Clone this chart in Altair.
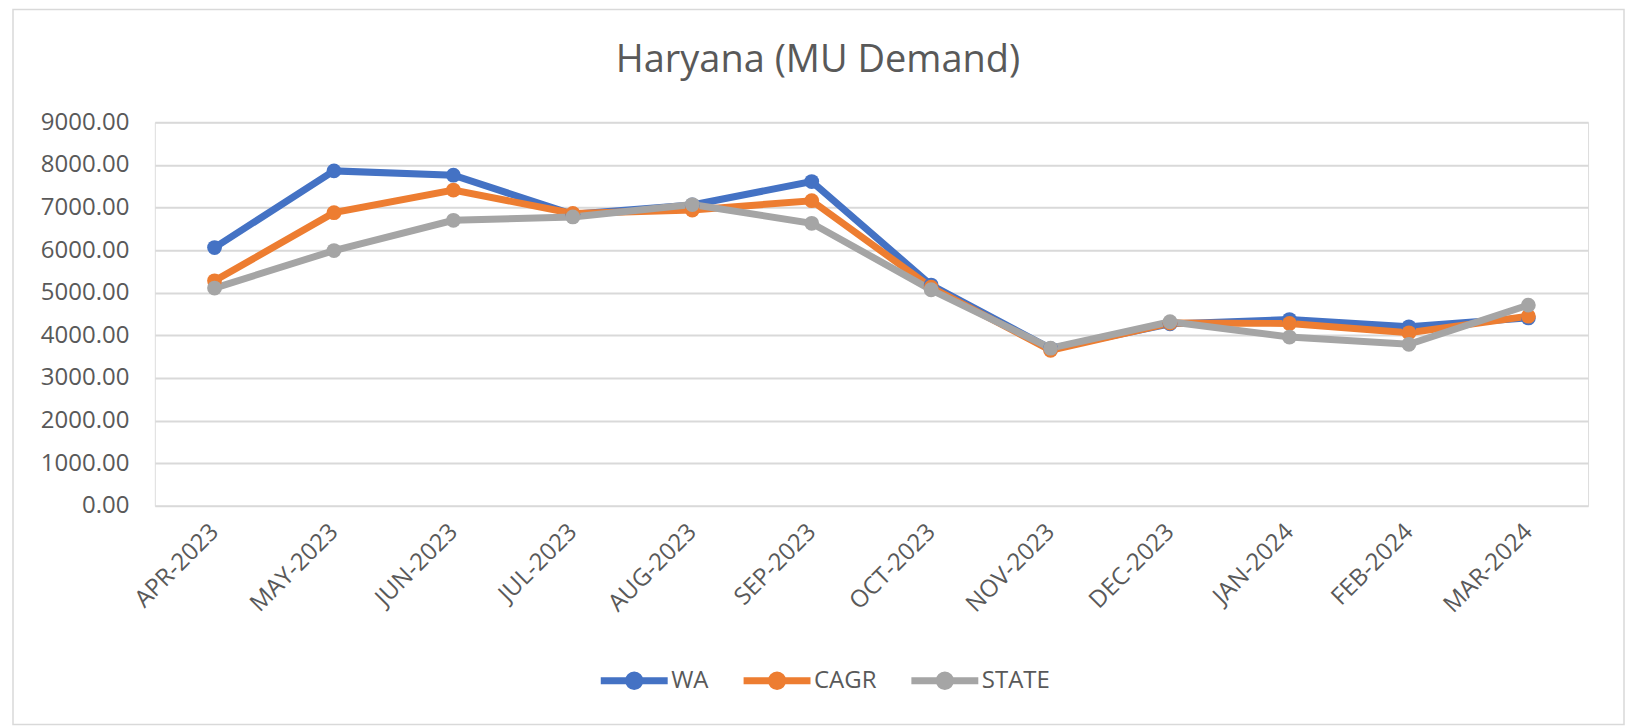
import altair as alt
import pandas as pd

title_text = "Haryana (MU Demand)"
months = ["APR-2023", "MAY-2023", "JUN-2023", "JUL-2023", "AUG-2023", "SEP-2023",
          "OCT-2023", "NOV-2023", "DEC-2023", "JAN-2024", "FEB-2024", "MAR-2024"]
wa = [6060, 7860, 7760, 6840, 7060, 7610, 5180, 3690, 4270, 4370, 4200, 4410]
cagr = [5280, 6880, 7410, 6860, 6940, 7160, 5130, 3650, 4290, 4280, 4060, 4450]
state = [5110, 5990, 6700, 6780, 7070, 6630, 5070, 3700, 4320, 3960, 3790, 4710]
series = ["WA", "CAGR", "STATE"]
colors = ["#4472C4", "#ED7D31", "#A5A5A5"]
y_ticks = [0, 1000, 2000, 3000, 4000, 5000, 6000, 7000, 8000, 9000]

rows = []
for name, vals in zip(series, [wa, cagr, state]):
    for m, v in zip(months, vals):
        rows.append({"Month": m, "Series": name, "Value": v})
df = pd.DataFrame(rows)

FONT = "Open Sans"
TXT = "#595959"

sym_path = "M-1,0L1,0M0.17,0A0.17,0.17,0,1,1,-0.17,0A0.17,0.17,0,1,1,0.17,0Z"

x_enc = alt.X("Month:N", sort=months, title=None,
              axis=alt.Axis(labelAngle=-45, labelFontSize=24, labelFont=FONT,
                            labelColor=TXT, labelPadding=22, domain=False,
                            ticks=False, grid=False, labelAlign="right",
                            labelBaseline="middle"))
y_enc = alt.Y("Value:Q", title=None,
              scale=alt.Scale(domain=[0, 9000], nice=False),
              axis=alt.Axis(values=y_ticks, format=".2f", labelFontSize=24,
                            labelFont=FONT, labelColor=TXT, labelPadding=26,
                            domain=False, ticks=False, gridColor="#D9D9D9",
                            gridWidth=2))
legend = alt.Legend(
    title=None, orient="none", direction="horizontal",
    legendX=443, legendY=522,
    symbolType=sym_path, symbolSize=4489,
    symbolStrokeWidth=7, labelFontSize=24,
    labelFont=FONT, labelColor=TXT, labelOffset=0,
    columnPadding=20, symbolOpacity=1)
c_enc = alt.Color("Series:N", sort=series,
                  scale=alt.Scale(domain=series, range=colors),
                  legend=legend)

base = alt.Chart(df)
lines = base.mark_line(strokeWidth=7).encode(x=x_enc, y=y_enc, color=c_enc)
points = base.mark_point(filled=True, size=220, opacity=1).encode(
    x=x_enc, y=y_enc, color=c_enc)

one = pd.DataFrame({"t": [title_text]})
frame = alt.Chart(one).mark_rect(
    filled=False, stroke="#D9D9D9", strokeWidth=1.5
).encode(
    x=alt.value(-142), x2=alt.value(1471), y=alt.value(-113), y2=alt.value(603)
)
title = alt.Chart(one).mark_text(
    font=FONT, fontSize=38, color=TXT, align="center", baseline="alphabetic"
).encode(text="t:N", x=alt.value(664), y=alt.value(-50))

chart = alt.layer(frame, title, lines, points).properties(
    width=1435,
    height=384,
    padding={"left": 4, "top": 0, "right": 0, "bottom": 0},
).configure_view(stroke=None).configure(background="white")

chart.save("out.html", embed_options={"renderer": "svg", "actions": False})
